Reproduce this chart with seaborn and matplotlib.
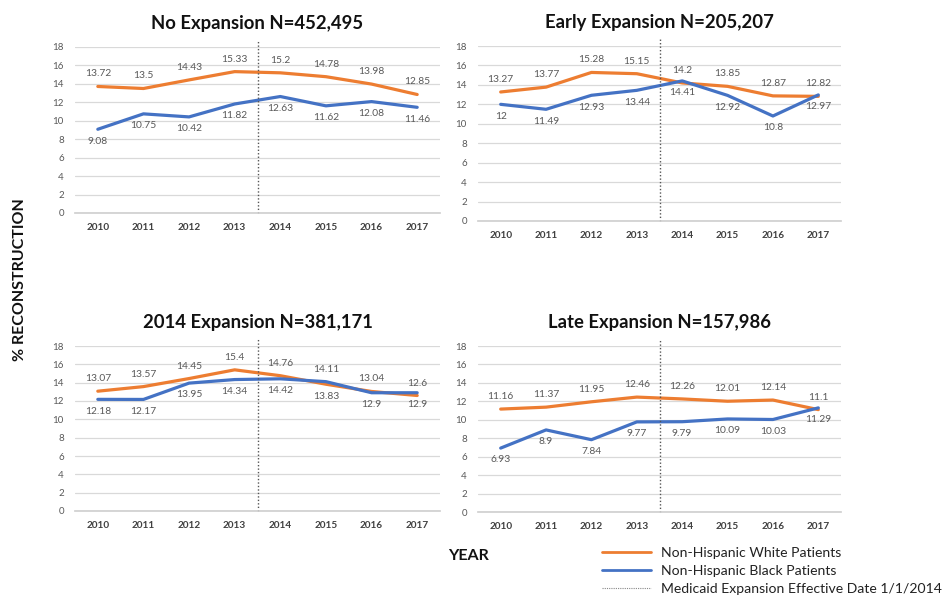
import pandas as pd
import matplotlib.pyplot as plt
import seaborn as sns
from matplotlib.lines import Line2D

years = [2010, 2011, 2012, 2013, 2014, 2015, 2016, 2017]
panel_titles = ['No Expansion N=452,495', 'Early Expansion N=205,207',
                '2014 Expansion N=381,171', 'Late Expansion N=157,986']

white_no = [13.72, 13.5, 14.43, 15.33, 15.2, 14.78, 13.98, 12.85]
black_no = [9.08, 10.75, 10.42, 11.82, 12.63, 11.62, 12.08, 11.46]
white_early = [13.27, 13.77, 15.28, 15.15, 14.2, 13.85, 12.87, 12.82]
black_early = [12, 11.49, 12.93, 13.44, 14.41, 12.92, 10.8, 12.97]
white_2014 = [13.07, 13.57, 14.45, 15.4, 14.76, 13.83, 13.04, 12.6]
black_2014 = [12.18, 12.17, 13.95, 14.34, 14.42, 14.11, 12.9, 12.9]
white_late = [11.16, 11.37, 11.95, 12.46, 12.26, 12.01, 12.14, 11.1]
black_late = [6.93, 8.9, 7.84, 9.77, 9.79, 10.09, 10.03, 11.29]

groups = ['White', 'Black']
series = {panel_titles[0]: (white_no, black_no),
          panel_titles[1]: (white_early, black_early),
          panel_titles[2]: (white_2014, black_2014),
          panel_titles[3]: (white_late, black_late)}

rows = []
for title, (w, b) in series.items():
    for g, vals in zip(groups, (w, b)):
        for i, y in enumerate(years):
            rows.append({'panel': title, 'group': g, 'idx': i, 'year': y, 'pct': vals[i]})
df = pd.DataFrame(rows)

sns.set_theme(style='white')
plt.rcParams['font.family'] = ['Lato', 'DejaVu Sans']

palette = {'White': '#ED7D31', 'Black': '#4472C4'}
label_color = '#595959'

# axes boxes in pixels: left, right, y of 0 gridline, y of 18 gridline
W, H = 949, 598
boxes = [(75, 440, 213, 47), (478, 841, 221, 46), (75, 440, 511, 346), (478, 841, 512, 346)]
# label side exceptions (panel, idx) where white label goes below and black above
swap = {(panel_titles[2], 5)}

fig = plt.figure(figsize=(W / 100, H / 100), dpi=100)
for title, (x0, x1, yb, yt) in zip(panel_titles, boxes):
    ax = fig.add_axes([x0 / W, (H - yb) / H, (x1 - x0) / W, (yb - yt) / H])
    d = df[df['panel'] == title]
    sns.lineplot(data=d, x='idx', y='pct', hue='group', palette=palette, linewidth=2.3,
                 ax=ax, legend=False, hue_order=groups)
    for _, r in d.iterrows():
        up = r['group'] == 'White'
        if (title, r['idx']) in swap:
            up = not up
        ax.annotate(f"{r['pct']:g}", (r['idx'], r['pct']), textcoords='offset points',
                    xytext=(0, 9 if up else -8.5), ha='center', va='center',
                    fontsize=7.4, color=label_color)
    ax.axvline(3.5, ymin=0, ymax=1.04, color='#555555', linestyle=(0, (1, 1.5)),
               linewidth=1, clip_on=False)
    ax.set_xlim(-0.5, 7.5)
    ax.set_ylim(0, 18)
    ax.set_yticks(range(0, 19, 2))
    ax.set_xticks(range(len(years)))
    ax.set_xticklabels(years, fontsize=7.2, fontweight='bold', color='#404040')
    ax.set_xticks([i - 0.5 for i in range(len(years) + 1)], minor=True)
    ax.tick_params(axis='x', which='major', length=0, pad=7)
    ax.tick_params(axis='x', which='minor', length=4, color='#d0d0d0', width=0.8)
    ax.tick_params(axis='y', length=0, labelsize=7, labelcolor='#595959', pad=8)
    ax.grid(axis='y', color='#d9d9d9', linewidth=0.9)
    ax.set_axisbelow(True)
    for s in ['top', 'right', 'left']:
        ax.spines[s].set_visible(False)
    ax.spines['bottom'].set_color('#d0d0d0')
    ax.set_xlabel('')
    ax.set_ylabel('')
    ax.set_title(title, fontsize=13.3, fontweight='bold', color='#111111', pad=13)

fig.text(20 / W, (H - 280) / H, '% RECONSTRUCTION', rotation=90, ha='center', va='center',
         fontsize=11.5, fontweight='bold', color='#111111')
fig.text(468 / W, (H - 556) / H, 'YEAR', ha='center', va='center',
         fontsize=11.5, fontweight='bold', color='#111111')

handles = [Line2D([], [], color=palette['White'], linewidth=2),
           Line2D([], [], color=palette['Black'], linewidth=2),
           Line2D([], [], color='#888888', linestyle=(0, (1, 1)), linewidth=0.8)]
labels = ['Non-Hispanic White Patients', 'Non-Hispanic Black Patients',
          'Medicaid Expansion Effective Date 1/1/2014']
fig.legend(handles, labels, loc='upper left', bbox_to_anchor=(598 / W, (H - 543) / H),
           frameon=False, fontsize=10.1, handlelength=3.5, handletextpad=0.7,
           labelspacing=0.42, borderaxespad=0, borderpad=0.3, labelcolor='#222222')

fig.savefig('out.png', dpi=100)
